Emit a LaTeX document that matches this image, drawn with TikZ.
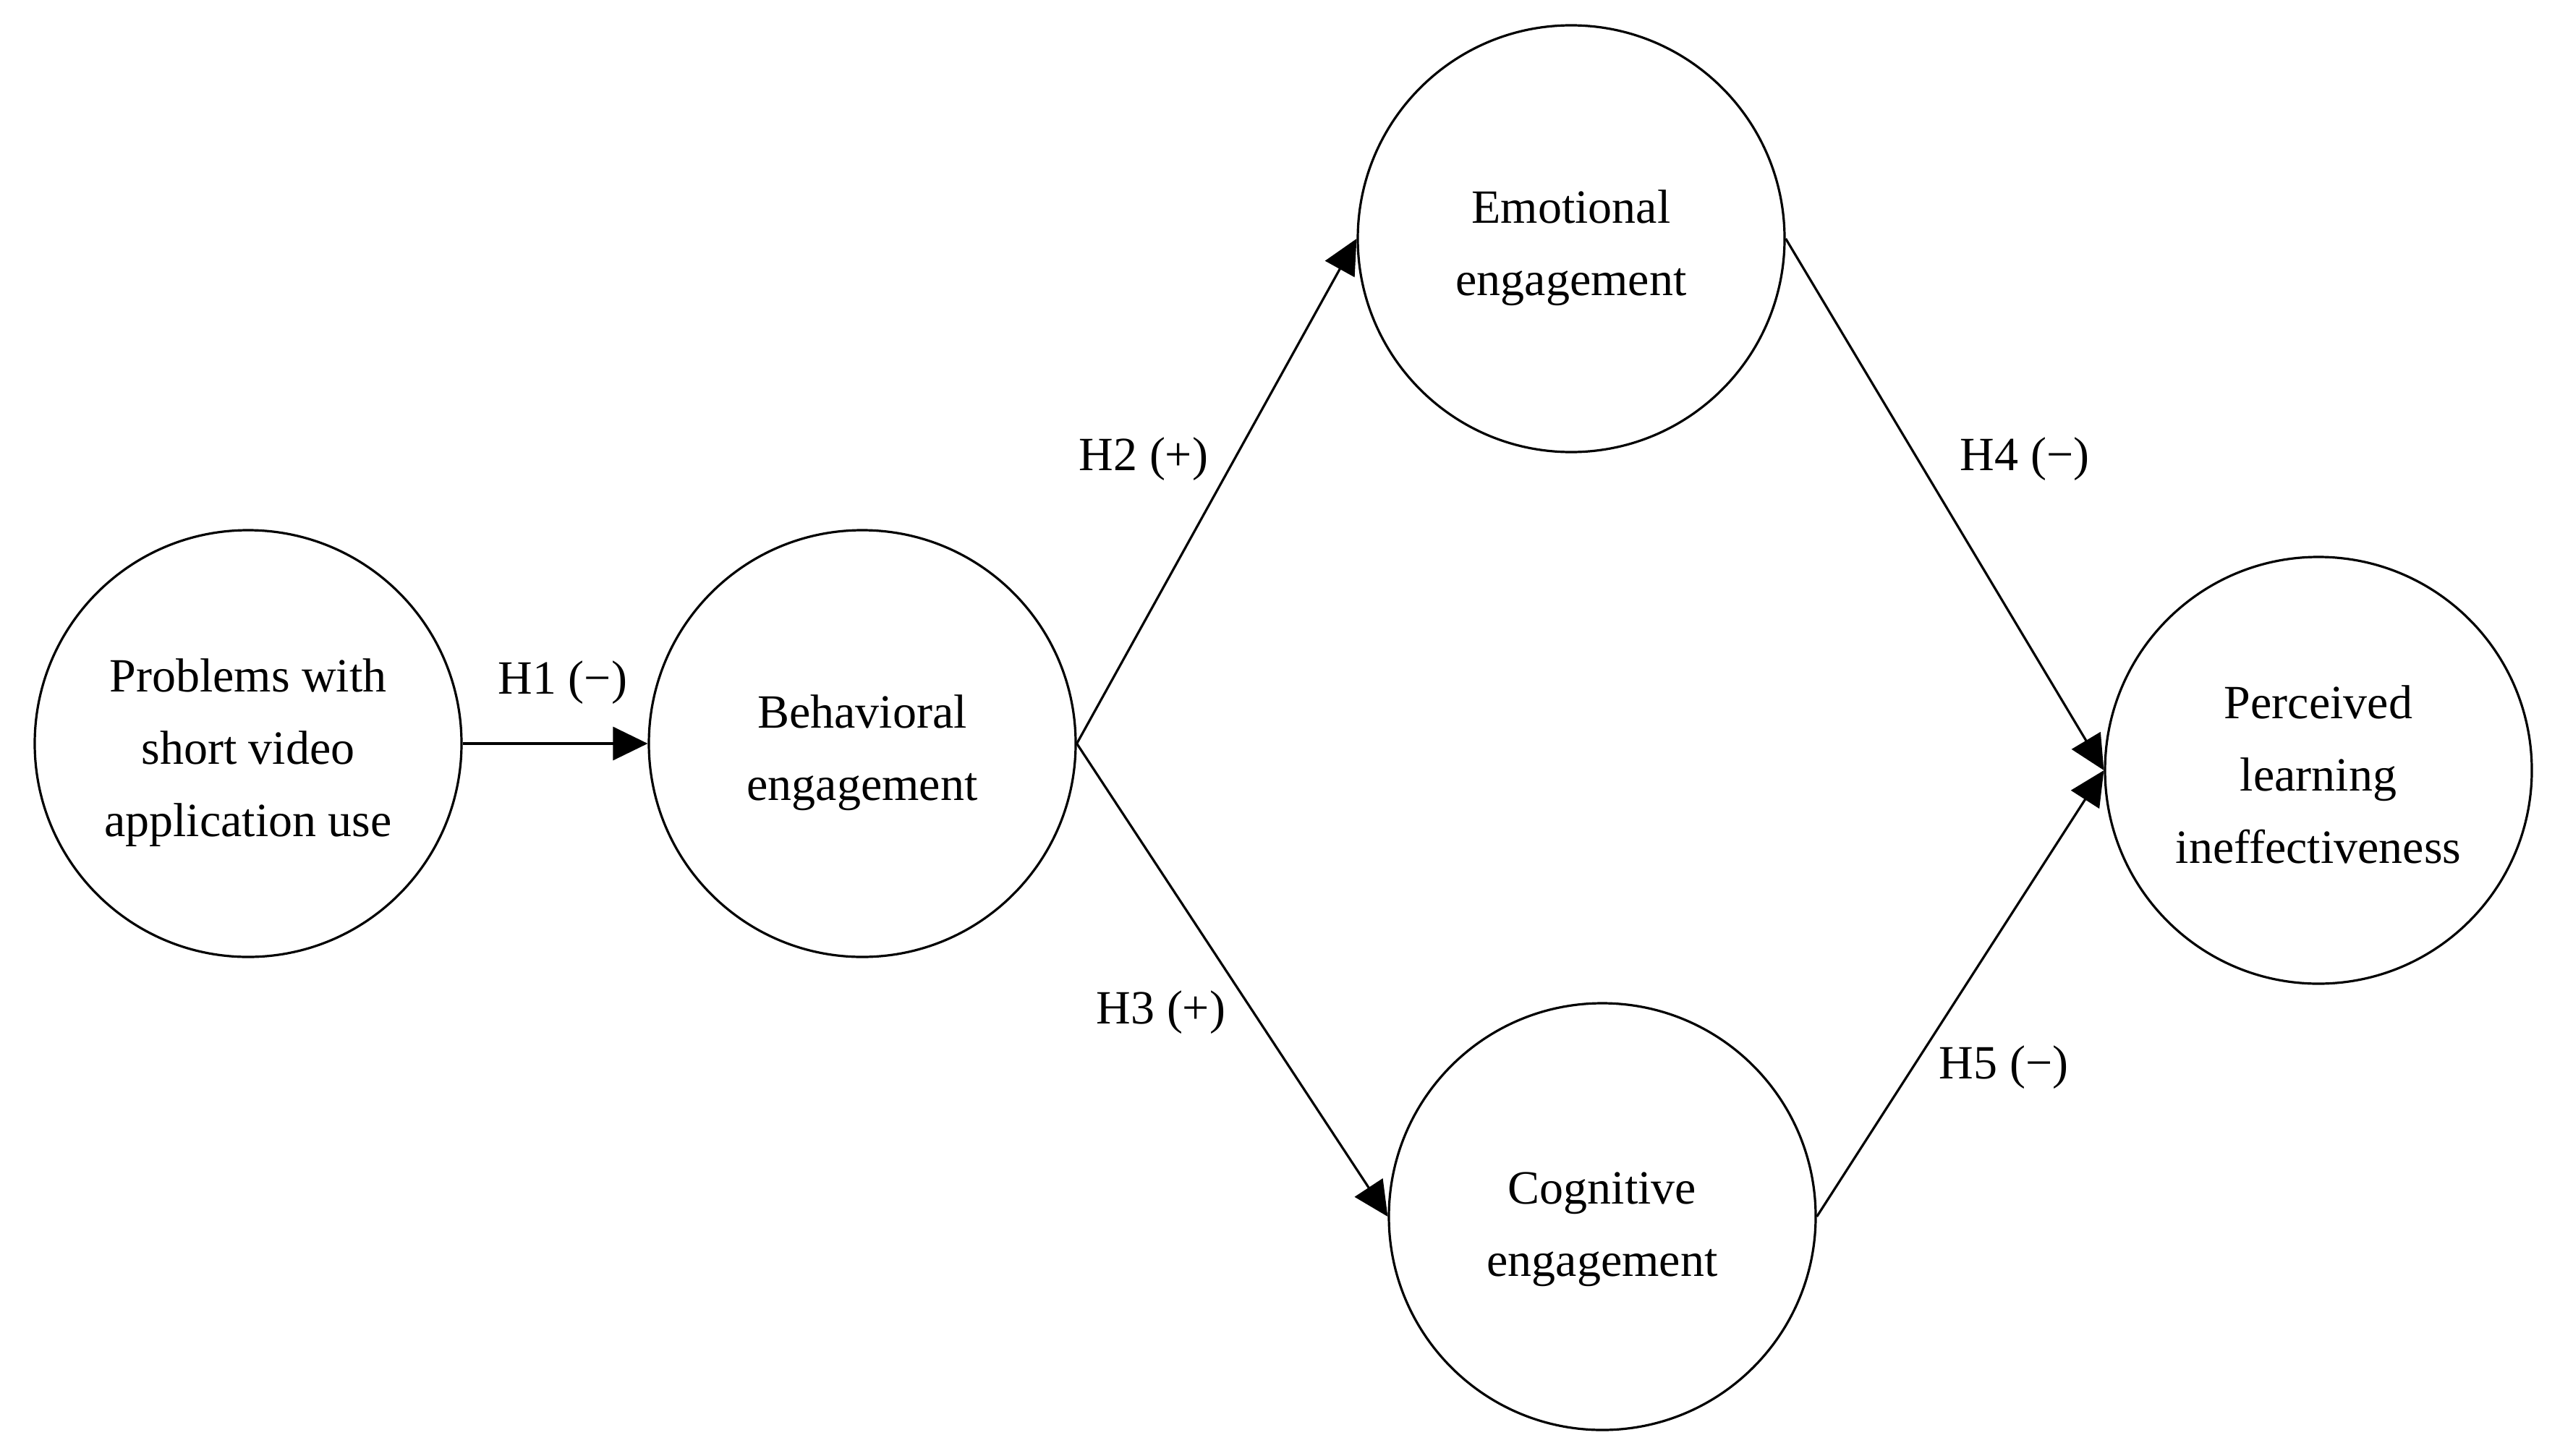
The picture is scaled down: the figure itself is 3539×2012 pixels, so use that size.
\documentclass[tikz,border=0pt]{standalone}
\usepackage{fontspec}
\setmainfont{Liberation Serif}
\usetikzlibrary{arrows.meta,calc}
\begin{document}
\begin{tikzpicture}[x=0.25pt,y=-0.25pt,
  latent/.style={circle,draw,line width=0.8pt,minimum size=147.5pt,inner sep=0pt},
  ctext/.style={align=center,anchor=base,inner sep=0pt,font=\fontsize{16.5pt}{25pt}\selectfont},
  hlabel/.style={anchor=base,inner sep=0pt,font=\fontsize{16.5pt}{25pt}\selectfont},
  path/.style={line width=0.8pt,-{Triangle[length=12pt,width=11.5pt]}}]
\useasboundingbox (0,0) rectangle (3539,2012);
% constructs
\node[latent] (A) at (343,1028) {};
\node[latent] (B) at (1192,1028) {};
\node[latent] (E) at (2172,330) {};
\node[latent] (C) at (2215,1682) {};
\node[latent] (P) at (3205,1065) {};
% texts (base anchor = baseline of last line)
\node[ctext] (tA) at ($(A)+(0,128)$) {Problems with\\short video\\application use};
\node[ctext] (tB) at ($(B)+(0,78)$) {Behavioral\\engagement};
\node[ctext] (tE) at ($(E)+(0,78)$) {Emotional\\engagement};
\node[ctext] (tC) at ($(C)+(0,82)$) {Cognitive\\engagement};
\node[ctext] (tP) at ($(P)+(0,128)$) {Perceived\\learning\\ineffectiveness};
% paths
\draw[path] (A.east) -- (B.west);
\draw[path] (B.east) -- (E.west);
\draw[path] (B.east) -- (C.west);
\draw[path] (E.east) -- (P.west);
\draw[path] (C.east) -- (P.west);
% labels
\node[hlabel] (h1) at (778,959) {H1 (−)};
\node[hlabel] (h2) at (1581,650) {H2 (+)};
\node[hlabel] (h3) at (1605,1415) {H3 (+)};
\node[hlabel] (h4) at (2799,650) {H4 (−)};
\node[hlabel] (h5) at (2770,1491) {H5 (−)};
\end{tikzpicture}
\end{document}
